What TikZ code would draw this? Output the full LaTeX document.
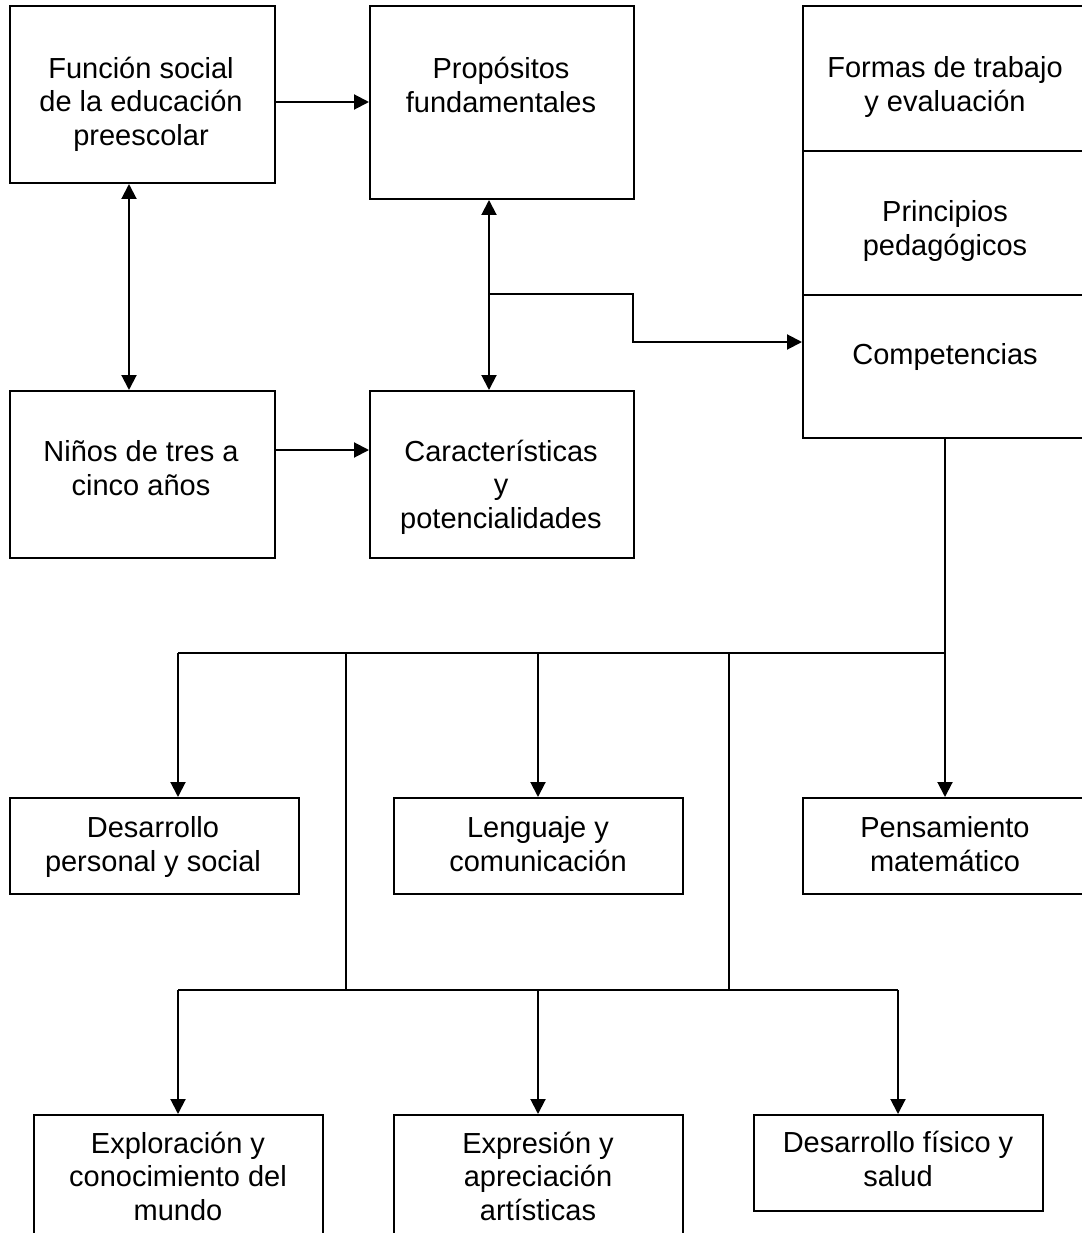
\documentclass[tikz,border=0pt]{standalone}
\usepackage{fontspec}
\setmainfont{Liberation Sans}
\usetikzlibrary{arrows.meta}
\begin{document}
\begin{tikzpicture}[x=1pt,y=-1pt,
  boxn/.style={draw, line width=2pt, inner sep=0pt, anchor=north west},
  txt/.style={align=center, inner sep=0pt, font=\fontsize{29}{33.5}\selectfont},
  conn/.style={line width=2pt},
  arr/.style={conn, -{Triangle[length=15pt,width=15pt]}},
  dbl/.style={conn, {Triangle[length=15pt,width=15pt]}-{Triangle[length=15pt,width=15pt]}}]
\useasboundingbox (0,0) rectangle (1081,1233);
% top-left boxes
\node[boxn, minimum width=265pt, minimum height=177pt] (A) at (9,5) {};
\node[txt] (At) at (141,104) {Función social\\de la educación\\preescolar};
\node[boxn, minimum width=264pt, minimum height=193pt] (B) at (369,5) {};
\node[txt] (Bt) at (501,85) {Propósitos\\fundamentales};
\node[boxn, minimum width=265pt, minimum height=167pt] (C) at (9,390) {};
\node[txt] (Ct) at (141,468) {Niños de tres a\\cinco años};
\node[boxn, minimum width=264pt, minimum height=167pt] (D) at (369,390) {};
\node[txt] (Dt) at (501,487) {Características\\y\\potencialidades};
% right stack
\node[boxn, minimum width=290pt, minimum height=145pt] (R1) at (802,5) {};
\node[txt] (R1t) at (945,87) {Formas de trabajo\\y evaluación};
\node[boxn, minimum width=290pt, minimum height=144pt] (R2) at (802,150) {};
\node[txt] (R2t) at (945,231) {Principios\\pedagógicos};
\node[boxn, minimum width=290pt, minimum height=143pt] (R3) at (802,294) {};
\node[txt] (R3t) at (945,357) {Competencias};
% middle row
\node[boxn, minimum width=289pt, minimum height=96pt] (M1) at (9,797) {};
\node[txt] (M1t) at (153,847) {Desarrollo\\personal y social};
\node[boxn, minimum width=289pt, minimum height=96pt] (M2) at (393,797) {};
\node[txt] (M2t) at (538,844) {Lenguaje y\\comunicación};
\node[boxn, minimum width=290pt, minimum height=96pt] (M3) at (802,797) {};
\node[txt] (M3t) at (945,844) {Pensamiento\\matemático};
% bottom row
\node[boxn, minimum width=289pt, minimum height=140pt] (E1) at (33,1114) {};
\node[txt] (E1t) at (178,1176) {Exploración y\\conocimiento del\\mundo};
\node[boxn, minimum width=289pt, minimum height=140pt] (E2) at (393,1114) {};
\node[txt] (E2t) at (538,1176) {Expresión y\\apreciación\\artísticas};
\node[boxn, minimum width=289pt, minimum height=96pt] (E3) at (753,1114) {};
\node[txt] (E3t) at (898,1159) {Desarrollo físico y\\salud};
% coordinates
\coordinate (ab) at (0,102);
\coordinate (cd) at (0,450);
\coordinate (xac) at (129,0);
\coordinate (xbd) at (489,0);
\coordinate (j1) at (489,294);
\coordinate (j2) at (633,342);
\coordinate (h1) at (945,653);
\coordinate (h2) at (0,990);
\coordinate (x1) at (178,0);
\coordinate (x2) at (538,0);
\coordinate (x3) at (898,0);
\coordinate (v1) at (346,0);
\coordinate (v2) at (729,0);
% connectors
\draw[arr] (A.east |- ab) -- (B.west |- ab);
\draw[arr] (C.east |- cd) -- (D.west |- cd);
\draw[dbl] (A.south -| xac) -- (C.north -| xac);
\draw[dbl] (B.south -| xbd) -- (D.north -| xbd);
\draw[arr] (j1) -| (j2) -- (R3.west |- j2);
\draw[conn] (h1 |- R3.south) -- (h1) -- (h1 -| x1);
\draw[arr] (h1 -| x1) -- (M1.north -| x1);
\draw[arr] (h1 -| x2) -- (M2.north -| x2);
\draw[arr] (h1) -- (M3.north -| h1);
\draw[conn] (h1 -| v1) -- (h2 -| v1);
\draw[conn] (h1 -| v2) -- (h2 -| v2);
\draw[conn] (h2 -| x1) -- (h2 -| x3);
\draw[arr] (h2 -| x1) -- (E1.north -| x1);
\draw[arr] (h2 -| x2) -- (E2.north -| x2);
\draw[arr] (h2 -| x3) -- (E3.north -| x3);
\end{tikzpicture}
\end{document}
